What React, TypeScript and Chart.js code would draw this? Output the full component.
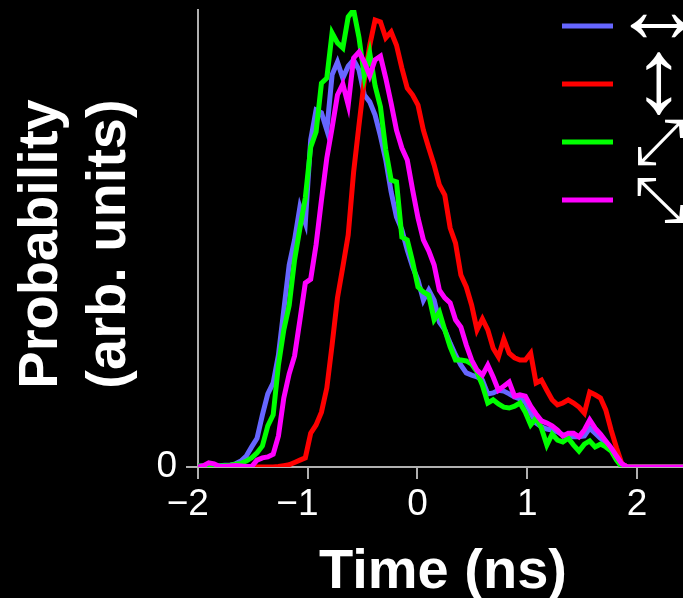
import React, { useEffect, useRef } from "react";
import { Chart, registerables } from "chart.js";

Chart.register(...registerables);

// Sample times (ns)
const times = [
  -2.0, -1.951, -1.902, -1.853, -1.804, -1.756, -1.707, -1.658, -1.609, -1.56,
  -1.511, -1.462, -1.413, -1.364, -1.315, -1.267, -1.218, -1.169, -1.12, -1.071,
  -1.022, -0.973, -0.924, -0.875, -0.826, -0.778, -0.729, -0.68, -0.631, -0.582,
  -0.533, -0.484, -0.435, -0.386, -0.337, -0.289, -0.24, -0.191, -0.142, -0.093,
  -0.044, 0.005, 0.054, 0.103, 0.152, 0.2, 0.249, 0.298, 0.347, 0.396,
  0.445, 0.494, 0.543, 0.592, 0.641, 0.69, 0.738, 0.787, 0.836, 0.885,
  0.934, 0.983, 1.032, 1.081, 1.13, 1.179, 1.227, 1.276, 1.325, 1.374,
  1.423, 1.472, 1.521, 1.57, 1.619, 1.668, 1.716, 1.765, 1.814, 1.863,
  1.912, 2.1, 2.3, 2.45,
];

// Horizontal polarisation (blue)
const horizontal = [
  0.2, 0.2, 0.2, 0.2, 0.3, 0.4, 0.4, 0.7, 1.3, 2.4,
  4.4, 6.3, 11.4, 16, 18.4, 24.5, 34.4, 44.2, 49.7, 56.9,
  53.4, 71.6, 78.1, 77.5, 73.7, 85.8, 88.6, 85.1, 87.7, 89.1,
  86.9, 81.4, 79.9, 77, 72.4, 67.2, 60.2, 54.7, 51.9, 47.5,
  43.8, 40.9, 36.5, 38.7, 36.5, 31.7, 30, 27.1, 24.5, 22.3,
  20.6, 20.1, 19.7, 19, 16, 16.2, 16.8, 16.6, 16, 15.3,
  14.9, 14.2, 11.8, 9.6, 8.8, 8.3, 8.1, 7.7, 7, 6.8,
  6.6, 6.6, 6.8, 8.5, 7.4, 6.3, 5.5, 3.9, 2.4, 0.7,
  0, 0, 0, 0,
];

// Vertical polarisation (red)
const vertical = [
  0, 0, 0, 0, 0, 0, 0, 0, 0, 0,
  0, 0, 0, 0, 0, 0.1, 0.3, 0.5, 1.0, 1.5,
  2.0, 7.4, 9.2, 12, 17.3, 26.7, 37, 43.8, 50.8, 64.5,
  74.8, 84.7, 92.3, 97.8, 97.4, 93.9, 95.2, 92.3, 87.3, 82.9,
  81.4, 79.2, 73.7, 69.8, 66.1, 61.7, 59.5, 52.3, 49, 42,
  39.4, 35.4, 30, 32.4, 30, 26, 24.1, 28, 24.9, 23.9,
  23.4, 23.4, 24.9, 18.4, 19, 16.8, 14.7, 13.6, 14, 14.7,
  14, 13.1, 11.8, 16.4, 15.8, 15.1, 12.5, 8.1, 4.2, 0.7,
  0, 0, 0, 0,
];

// Diagonal polarisation (green)
const diagonalUp = [
  0.2, 0.2, 0.1, 0.1, 0.2, 0.3, 0.4, 0.6, 0.8, 1.3,
  2, 3.1, 4.6, 9, 11.4, 22.3, 30, 35.4, 45.3, 52.3,
  58.9, 70, 73.3, 84, 85.1, 95, 92.8, 91.7, 98.5, 100,
  94, 85.5, 90.6, 83.4, 78.8, 69.4, 62.8, 62.4, 50.3, 49.7,
  44.9, 39.4, 38.3, 37.6, 32.2, 33.9, 30, 26.3, 23.4, 23.4,
  23.2, 22.5, 20.8, 17.9, 14, 14.7, 13.8, 13.1, 12.9, 13.3,
  14, 12, 9.2, 10.7, 8.5, 4.8, 7.2, 5.9, 5.5, 6.3,
  4.8, 3.5, 5, 5.7, 4.4, 5, 4.4, 3.5, 1.5, 0,
  0, 0, 0, 0,
];

// Anti-diagonal polarisation (magenta)
const diagonalDown = [
  0, 0.3, 0.9, 0.7, 0.1, 0.1, 0.2, 0.3, 0.2, 0.1,
  0.1, 1.5, 2, 2.2, 2.8, 6.8, 15.1, 20.4, 24.3, 32.2,
  40.3, 41.1, 48.6, 58.4, 67.6, 74.2, 81.4, 83.8, 79.2, 89.5,
  90.8, 88.6, 85.6, 89.1, 89.9, 85.1, 79.6, 73.7, 69.8, 67.2,
  60.6, 54.5, 49.7, 47.3, 44.2, 38.7, 37, 35.9, 32.2, 30.6,
  26.7, 23.4, 21.2, 20.1, 22.3, 19.7, 16.8, 17.7, 18.6, 15.5,
  15.8, 15.5, 13.3, 11.6, 10.1, 9.6, 9, 8.1, 6.8, 7.4,
  7.4, 6.6, 8.1, 10.3, 8.5, 7.2, 5.7, 4.2, 2.4, 0.7,
  0, 0, 0, 0,
];

const xTicks = [-2, -1, 0, 1, 2];
// trailing spaces keep the digit centred on its tick (minus sign hangs left)
const xTickLabels = ["\u22122  ", "\u22121  ", "0", "1", "2"];
const yTicks = [0];
const yTickLabels = ["0"];
const legendLabels = ["\u2194", "\u2195", "\u2922", "\u2921"];
const xTitle = "Time (ns)";
const yTitleLines = ["Probability", "(arb. units)"];

const seriesList = [horizontal, vertical, diagonalUp, diagonalDown];
const seriesColors = ["#6666ff", "#ff0000", "#00ff00", "#ff00ff"];
const seriesOrder = [4, 3, 2, 1];

const AXIS_COLOR = "#b0b0b0";
const legendGlyphSize = [96, 106, 64, 64];
const legendGlyphShift = [-10, -1, 3, 3];

const overlayPlugin = {
  id: "overlay",
  afterDraw(chart: any) {
    const ctx: CanvasRenderingContext2D = chart.ctx;
    ctx.save();
    ctx.fillStyle = "#ffffff";
    ctx.textAlign = "center";
    ctx.textBaseline = "alphabetic";
    ctx.font = 'bold 56px "Liberation Sans", Arial, sans-serif';
    ctx.fillText(xTitle, 443, 588);
    const yBase = [57, 125];
    yTitleLines.forEach((line, k) => {
      ctx.save();
      ctx.translate(yBase[k], 244);
      ctx.rotate(-Math.PI / 2);
      ctx.fillText(line, 0, 0);
      ctx.restore();
    });
    // legend
    chart.data.datasets.forEach((ds: any, k: number) => {
      const y = 26 + k * 58;
      ctx.strokeStyle = ds.borderColor;
      ctx.lineWidth = 5;
      ctx.lineCap = "butt";
      ctx.beginPath();
      ctx.moveTo(562, y);
      ctx.lineTo(613, y);
      ctx.stroke();
      ctx.fillStyle = "#ffffff";
      ctx.font = legendGlyphSize[k] + 'px "Liberation Sans", "DejaVu Sans", sans-serif';
      ctx.textAlign = "center";
      ctx.textBaseline = "middle";
      ctx.fillText(legendLabels[k], 659, y + legendGlyphShift[k]);
    });
    ctx.restore();
  },
};

export default function App() {
  const canvasRef = useRef<HTMLCanvasElement | null>(null);

  useEffect(() => {
    if (!canvasRef.current) return;
    const datasets = seriesList.map((series, k) => ({
      label: legendLabels[k],
      data: times.map((t, i) => ({ x: t, y: series[i] })),
      borderColor: seriesColors[k],
      backgroundColor: seriesColors[k],
      borderWidth: 5,
      pointRadius: 0,
      tension: 0,
      fill: false,
      order: seriesOrder[k],
    }));
    const chart = new Chart(canvasRef.current, {
      type: "line",
      data: { datasets },
      options: {
        animation: false,
        responsive: true,
        maintainAspectRatio: false,
        layout: { padding: { top: 10, left: 0, right: 0, bottom: 0 } },
        plugins: {
          legend: { display: false },
          tooltip: { enabled: false },
        },
        scales: {
          x: {
            type: "linear",
            min: -2,
            max: 2.42,
            afterFit: (s: any) => {
              s.height = 131;
              s.paddingLeft = 0;
              s.paddingRight = 0;
            },
            afterBuildTicks: (a: any) => {
              a.ticks = xTicks.map((v) => ({ value: v }));
            },
            ticks: {
              color: "#ffffff",
              font: { family: '"Liberation Sans", Arial, sans-serif', size: 37 },
              padding: 4,
              maxRotation: 0,
              autoSkip: false,
              callback: (v: any) => xTickLabels[xTicks.indexOf(Number(v))] ?? "",
            },
            grid: {
              display: true,
              drawOnChartArea: false,
              drawTicks: true,
              tickLength: 12,
              color: AXIS_COLOR,
              lineWidth: 2,
            },
            border: { display: true, color: AXIS_COLOR, width: 2 },
          },
          y: {
            type: "linear",
            min: 0,
            max: 100,
            afterFit: (s: any) => {
              s.width = 198;
              s.paddingTop = 0;
              s.paddingBottom = 0;
            },
            afterBuildTicks: (a: any) => {
              a.ticks = yTicks.map((v) => ({ value: v }));
            },
            ticks: {
              color: "#ffffff",
              font: { family: '"Liberation Sans", Arial, sans-serif', size: 37 },
              padding: 9,
              callback: (v: any) => yTickLabels[yTicks.indexOf(Number(v))] ?? "",
            },
            grid: {
              display: true,
              drawOnChartArea: false,
              drawTicks: true,
              tickLength: 12,
              color: AXIS_COLOR,
              lineWidth: 2,
            },
            border: { display: true, color: AXIS_COLOR, width: 2 },
          },
        },
      },
      plugins: [overlayPlugin],
    });
    return () => chart.destroy();
  }, []);

  return (
    <div
      style={{
        position: "fixed",
        left: 0,
        top: 0,
        width: 683,
        height: 598,
        background: "#000000",
        overflow: "hidden",
      }}
    >
      <canvas ref={canvasRef} />
    </div>
  );
}
